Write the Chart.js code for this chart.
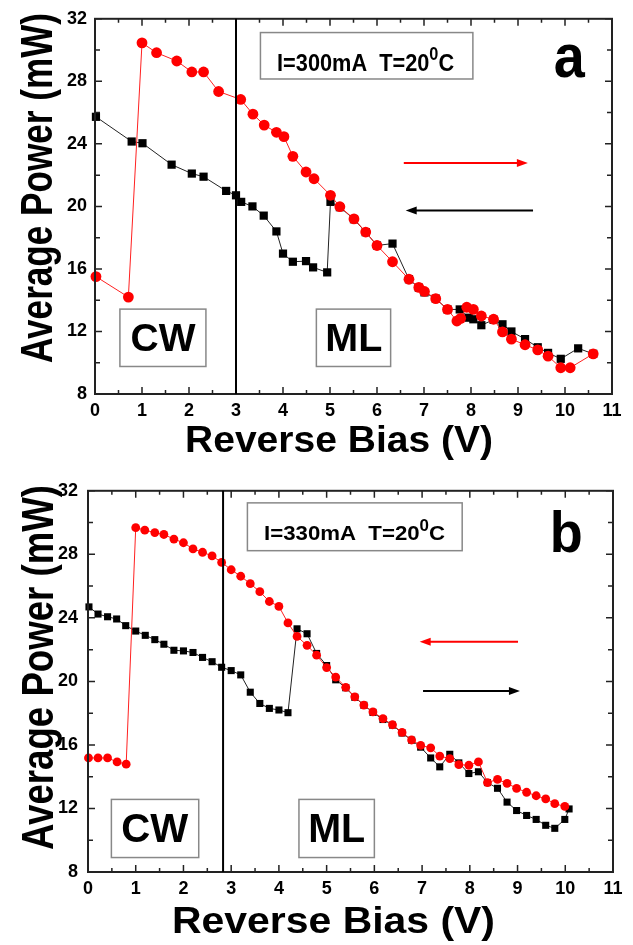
<!DOCTYPE html>
<html>
<head>
<meta charset="utf-8">
<script src="https://cdn.jsdelivr.net/npm/chart.js@4.4.1/dist/chart.umd.min.js"></script>
<style>
  body { margin: 0; background: #fff; }
  canvas { display: block; }
</style>
</head>
<body>
<canvas id="chart-a" width="633" height="470"></canvas>
<canvas id="chart-b" width="633" height="475"></canvas>
<script>
// panel a, I=300mA
var aRedV = [0.02, 0.71, 1.0, 1.31, 1.74, 2.06, 2.31, 2.63, 3.1, 3.36, 3.6, 3.86, 4.02, 4.21, 4.49, 4.66, 5.01, 5.21, 5.51, 5.76, 6.0, 6.33, 6.68, 6.89, 7.01, 7.25, 7.5, 7.7, 7.78, 7.91, 8.05, 8.22, 8.48, 8.67, 8.86, 9.15, 9.42, 9.64, 9.91, 10.11, 10.6];
var aRedP = [15.51, 14.2, 30.46, 29.83, 29.3, 28.6, 28.6, 27.35, 26.84, 25.9, 25.2, 24.74, 24.46, 23.2, 22.2, 21.77, 20.71, 19.98, 19.2, 18.36, 17.5, 16.46, 15.34, 14.82, 14.56, 14.1, 13.41, 12.67, 12.84, 13.55, 13.41, 12.99, 12.78, 11.97, 11.51, 11.15, 10.82, 10.42, 9.68, 9.68, 10.57];
var aBlackV = [0.02, 0.78, 1.01, 1.63, 2.06, 2.31, 2.79, 3.0, 3.11, 3.35, 3.59, 3.86, 4.0, 4.21, 4.49, 4.64, 4.94, 5.01, 5.21, 5.51, 5.76, 6.0, 6.33, 6.68, 6.89, 7.01, 7.25, 7.5, 7.76, 7.95, 8.05, 8.22, 8.48, 8.67, 8.86, 9.15, 9.42, 9.64, 9.91, 10.28, 10.6];
var aBlackP = [25.73, 24.15, 24.04, 22.67, 22.1, 21.9, 20.99, 20.71, 20.29, 20.0, 19.41, 18.4, 16.98, 16.46, 16.5, 16.1, 15.78, 20.29, 19.95, 19.18, 18.35, 17.5, 17.62, 15.34, 14.8, 14.5, 14.1, 13.41, 13.41, 12.88, 12.78, 12.4, 12.75, 12.46, 12.0, 11.51, 10.99, 10.63, 10.25, 10.92, 10.57];

// panel b, I=330mA
var bRedV = [0.01, 0.21, 0.41, 0.61, 0.8, 1.0, 1.19, 1.4, 1.59, 1.8, 2.0, 2.2, 2.4, 2.6, 2.8, 3.0, 3.2, 3.4, 3.6, 3.8, 4.0, 4.19, 4.38, 4.59, 4.79, 5.0, 5.19, 5.4, 5.59, 5.78, 5.97, 6.18, 6.38, 6.58, 6.78, 6.97, 7.18, 7.37, 7.58, 7.77, 7.98, 8.18, 8.37, 8.58, 8.78, 8.98, 9.19, 9.39, 9.59, 9.78, 9.99];
var bRedP = [15.18, 15.18, 15.18, 14.93, 14.79, 29.68, 29.52, 29.37, 29.25, 28.96, 28.73, 28.34, 28.13, 27.9, 27.49, 27.03, 26.62, 26.15, 25.65, 25.03, 24.72, 23.68, 22.83, 22.27, 21.65, 20.87, 20.27, 19.63, 19.03, 18.51, 18.08, 17.66, 17.27, 16.79, 16.31, 15.97, 15.82, 15.3, 15.14, 14.76, 14.72, 14.93, 13.63, 13.83, 13.58, 13.27, 13.02, 12.8, 12.61, 12.3, 12.13];
var bBlackV = [0.02, 0.21, 0.41, 0.6, 0.79, 1.0, 1.2, 1.4, 1.59, 1.8, 2.0, 2.2, 2.4, 2.6, 2.8, 3.0, 3.2, 3.4, 3.6, 3.8, 4.0, 4.19, 4.38, 4.59, 4.79, 5.0, 5.19, 5.4, 5.59, 5.78, 5.97, 6.18, 6.38, 6.58, 6.78, 6.97, 7.18, 7.37, 7.58, 7.77, 7.98, 8.18, 8.37, 8.58, 8.78, 8.98, 9.19, 9.39, 9.59, 9.78, 9.99, 10.08];
var bBlackP = [24.69, 24.24, 24.07, 23.93, 23.51, 23.17, 22.9, 22.63, 22.34, 21.96, 21.92, 21.82, 21.51, 21.24, 20.89, 20.68, 20.41, 19.32, 18.61, 18.3, 18.2, 18.03, 23.31, 23.0, 21.76, 21.0, 20.1, 19.6, 19.0, 18.5, 18.05, 17.6, 17.25, 16.75, 16.3, 15.86, 15.18, 14.62, 15.41, 14.87, 14.2, 14.31, 13.63, 13.27, 12.4, 11.87, 11.56, 11.31, 10.94, 10.75, 11.31, 11.97];

var xTicks = [0, 1, 2, 3, 4, 5, 6, 7, 8, 9, 10, 11];
var yTicks = [8, 12, 16, 20, 24, 28, 32];

var FONT = "'Liberation Sans', Arial, sans-serif";

function pts(xs, ys) {
  return xs.map(function (x, i) { return { x: x, y: ys[i] }; });
}

function fitText(ctx, text, x, y, font, width) {
  ctx.save();
  ctx.font = font;
  var w = ctx.measureText(text).width;
  ctx.translate(x, y);
  if (width) ctx.scale(width / w, 1);
  ctx.textAlign = "center";
  ctx.textBaseline = "alphabetic";
  ctx.fillText(text, 0, 0);
  ctx.restore();
}

function arrow(ctx, x1, x2, y, color) {
  var dir = x2 > x1 ? 1 : -1;
  ctx.save();
  ctx.strokeStyle = color;
  ctx.fillStyle = color;
  ctx.lineWidth = 2;
  ctx.beginPath();
  ctx.moveTo(x1, y);
  ctx.lineTo(x2 - dir * 8, y);
  ctx.stroke();
  ctx.beginPath();
  ctx.moveTo(x2, y);
  ctx.lineTo(x2 - dir * 11, y - 4);
  ctx.lineTo(x2 - dir * 11, y + 4);
  ctx.closePath();
  ctx.fill();
  ctx.restore();
}

var decor = {
  id: "decor",
  afterDraw: function (chart, args, o) {
    var ctx = chart.ctx, xs = chart.scales.x, ys = chart.scales.y, a = chart.chartArea;
    var X = function (v) { return xs.getPixelForValue(v); };
    var Y = function (v) { return ys.getPixelForValue(v); };
    ctx.save();
    // inward ticks
    ctx.strokeStyle = "#222";
    ctx.lineWidth = 1.5;
    xs.ticks.forEach(function (t) {
      var px = X(t.value), len = t.value % 1 === 0 ? 7 : 4;
      ctx.beginPath();
      ctx.moveTo(px, a.bottom); ctx.lineTo(px, a.bottom - len);
      ctx.moveTo(px, a.top); ctx.lineTo(px, a.top + len);
      ctx.stroke();
    });
    ys.ticks.forEach(function (t) {
      var py = Y(t.value), len = t.value % 4 === 0 ? 7 : 5;
      ctx.beginPath();
      ctx.moveTo(a.left, py); ctx.lineTo(a.left + len, py);
      ctx.moveTo(a.right, py); ctx.lineTo(a.right - len, py);
      ctx.stroke();
    });
    // frame
    ctx.lineWidth = 2;
    ctx.strokeRect(a.left, a.top, a.right - a.left, a.bottom - a.top);
    // CW / ML divider
    ctx.strokeStyle = "#000";
    ctx.beginPath();
    ctx.moveTo(X(o.vline), a.top); ctx.lineTo(X(o.vline), a.bottom);
    ctx.stroke();
    // boxes
    ctx.strokeStyle = "#888";
    ctx.lineWidth = 1.5;
    o.boxes.forEach(function (b) {
      ctx.strokeRect(X(b[0]), Y(b[3]), X(b[1]) - X(b[0]), Y(b[2]) - Y(b[3]));
    });
    ctx.fillStyle = "#000";
    o.labels.forEach(function (l) {
      fitText(ctx, l.text, X(l.x), Y(l.y), "bold " + l.size + "px " + FONT, l.width);
    });
    // condition text with superscript 0
    var c = o.cond, f1 = "bold " + c.size + "px " + FONT, f2 = "bold " + Math.round(c.size * 0.75) + "px " + FONT;
    ctx.font = f1; var w1 = ctx.measureText(c.text).width, w3 = ctx.measureText("C").width;
    ctx.font = f2; var w2 = ctx.measureText("0").width;
    var s = c.width / (w1 + w2 + w3);
    ctx.save();
    ctx.translate(X(c.x) - c.width / 2, Y(c.y));
    ctx.scale(s, 1);
    ctx.textAlign = "left";
    ctx.font = f1; ctx.fillText(c.text, 0, 0);
    ctx.font = f2; ctx.fillText("0", w1, -c.size * 0.45);
    ctx.font = f1; ctx.fillText("C", w1 + w2, 0);
    ctx.restore();
    // arrows
    o.arrows.forEach(function (r) { arrow(ctx, X(r[0]), X(r[1]), Y(r[2]), r[3]); });
    // axis titles
    var t = o.titles;
    fitText(ctx, "Reverse Bias (V)", t.xc, t.xb, "bold " + t.xs + "px " + FONT, t.xw);
    ctx.save();
    ctx.translate(t.yb, t.yc);
    ctx.rotate(-Math.PI / 2);
    fitText(ctx, "Average Power (mW)", 0, 0, "bold " + t.ys + "px " + FONT, t.yw);
    ctx.restore();
    ctx.restore();
  }
};

function makeChart(id, red, black, pad, yWidth, xHeight, yPad, deco, redR, blackR) {
  return new Chart(document.getElementById(id).getContext("2d"), {
    type: "scatter",
    data: {
      datasets: [
        {
          data: red,
          showLine: true,
          borderColor: "#ff2020",
          borderWidth: 1,
          backgroundColor: "#ff0000",
          pointBackgroundColor: "#ff0000",
          pointBorderWidth: 0,
          pointRadius: redR,
          pointStyle: "circle",
          clip: false,
        },
        {
          data: black,
          showLine: true,
          borderColor: "#222",
          borderWidth: 1,
          backgroundColor: "#000",
          pointBackgroundColor: "#000",
          pointBorderWidth: 0,
          pointRadius: blackR,
          pointStyle: "rect",
          clip: false,
        },
      ],
    },
    options: {
      responsive: false,
      animation: false,
      layout: { padding: pad },
      plugins: { legend: { display: false }, tooltip: { enabled: false }, decor: deco },
      scales: {
        x: {
          type: "linear",
          min: 0,
          max: 11,
          grid: { display: false, drawTicks: false },
          border: { display: false },
          afterFit: function (s) { s.height = xHeight; },
          ticks: {
            stepSize: 0.5,
            autoSkip: false,
            maxRotation: 0,
            padding: 6,
            color: "#000",
            font: { family: FONT, size: 18, weight: "bold" },
            callback: function (v) { return xTicks.indexOf(v) >= 0 ? v : ""; },
          },
        },
        y: {
          min: 8,
          max: 32,
          grid: { display: false, drawTicks: false },
          border: { display: false },
          afterFit: function (s) { s.width = yWidth; },
          ticks: {
            stepSize: 2,
            padding: yPad,
            color: "#000",
            font: { family: FONT, size: 18, weight: "bold" },
            callback: function (v) { return yTicks.indexOf(v) >= 0 ? v : ""; },
          },
        },
      },
    },
    plugins: [decor],
  });
}

makeChart("chart-a", pts(aRedV, aRedP), pts(aBlackV, aBlackP),
  { left: 0, top: 14, right: 21, bottom: 0 }, 95, 76, 8,
  {
    vline: 3,
    boxes: [[3.52, 8.04, 28.15, 31.12], [0.53, 2.36, 9.76, 13.43], [4.71, 6.29, 9.76, 13.43]],
    labels: [
      { text: "CW", x: 1.446, y: 10.77, size: 38, width: 65 },
      { text: "ML", x: 5.507, y: 10.77, size: 38, width: 57 },
      { text: "a", x: 10.09, y: 28.27, size: 62, width: 31 },
    ],
    cond: { text: "I=300mA  T=20", x: 5.757, y: 28.65, size: 24, width: 177 },
    arrows: [[6.57, 9.21, 22.78, "#ff0000"], [9.32, 6.61, 19.74, "#000"]],
    titles: { xc: 339, xb: 452, xs: 36, xw: 308, yb: 52, yc: 188, ys: 44, yw: 350 },
  }, 5.4, 5.8);

makeChart("chart-b", pts(bRedV, bRedP), pts(bBlackV, bBlackP),
  { left: 0, top: 15, right: 20, bottom: 0 }, 88, 73, 10,
  {
    vline: 2.83,
    boxes: [[3.34, 7.84, 28.23, 31.24], [0.49, 2.32, 8.91, 12.57], [4.42, 6.0, 8.91, 12.57]],
    labels: [
      { text: "CW", x: 1.398, y: 9.86, size: 40, width: 67 },
      { text: "ML", x: 5.21, y: 9.86, size: 40, width: 57 },
      { text: "b", x: 10.02, y: 28.15, size: 58, width: 33 },
    ],
    cond: { text: "I=330mA  T=20", x: 5.585, y: 28.9, size: 21, width: 181 },
    arrows: [[9.01, 6.95, 22.5, "#ff0000"], [7.02, 9.05, 19.4, "#000"]],
    titles: { xc: 333.5, xb: 463, xs: 37, xw: 323, yb: 53, yc: 197.5, ys: 44, yw: 365 },
  }, 4.4, 5.0);
</script>
</body>
</html>
